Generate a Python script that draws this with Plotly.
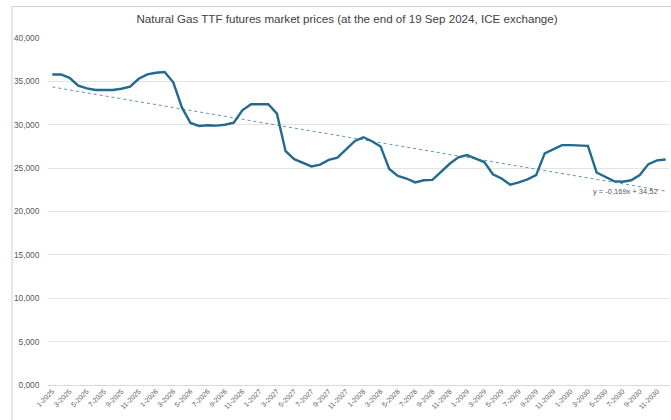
import plotly.graph_objects as go

months = [f"{m}-{y}" for y in range(2025, 2031) for m in range(1, 13)]

prices = [
    35.8, 35.8, 35.4, 34.5, 34.2, 34.0, 34.0, 34.0, 34.15, 34.4, 35.3, 35.8,
    36.0, 36.07, 34.9, 32.0, 30.2, 29.86, 29.94, 29.9, 30.0, 30.25, 31.67, 32.36,
    32.36, 32.36, 31.28, 26.95, 26.03, 25.65, 25.2, 25.4, 25.95, 26.2, 27.2, 28.1,
    28.56, 28.1, 27.5, 24.9, 24.1, 23.8, 23.35, 23.6, 23.65, 24.6, 25.5, 26.25,
    26.5, 26.1, 25.7, 24.3, 23.8, 23.1, 23.35, 23.7, 24.2, 26.7, 27.2, 27.65,
    27.65, 27.6, 27.56, 24.5, 24.0, 23.5, 23.43, 23.6, 24.2, 25.46, 25.9, 26.0,
]

tick_labels = months[::2]
y_ticks = [0, 5, 10, 15, 20, 25, 30, 35, 40]

trend_slope = -0.169
trend_intercept = 34.52
trend_label = "y = -0,169x + 34,52"
title = "Natural Gas TTF futures market prices (at the end of 19 Sep 2024, ICE exchange)"

trend = [trend_slope * (i + 1) + trend_intercept for i in range(len(months))]

line_color = "#226a8e"
font_family = "Liberation Sans, Arial, sans-serif"

fig = go.Figure()
fig.add_trace(go.Scatter(
    x=months, y=trend, mode="lines",
    line=dict(color="#5b95b5", width=1, dash="dot"),
    hoverinfo="skip", showlegend=False,
))
fig.add_trace(go.Scatter(
    x=months, y=prices, mode="lines",
    line=dict(color=line_color, width=2.4),
    showlegend=False,
))

fig.add_annotation(
    x=66.3, y=22.25, xref="x", yref="y", text=trend_label, showarrow=False,
    font=dict(family=font_family, size=7.5, color="#595959"),
)

# chart border (left and top)
bx = (12 - 48) / 622
by = (385.5 - 6) / 348
fig.add_shape(type="rect", xref="paper", yref="paper", layer="above",
              x0=bx, x1=1.3, y0=-0.5, y1=by,
              fillcolor="rgba(0,0,0,0)",
              line=dict(color="#cfcfcf", width=1))

fig.update_layout(
    width=671, height=420,
    margin=dict(l=48, r=1, t=37.5, b=34.5, autoexpand=False),
    paper_bgcolor="white", plot_bgcolor="white",
    separators=", ",
    title=dict(text=title, xref="container", x=347 / 671, xanchor="center",
               y=1 - 19 / 420, yanchor="middle",
               font=dict(family=font_family, size=11.6, color="#404040")),
    font=dict(family=font_family),
)
fig.update_xaxes(
    type="category", range=[-0.5, 71.5],
    tickmode="array", tickvals=tick_labels, ticktext=tick_labels,
    tickangle=-45, tickfont=dict(size=7, color="#595959"),
    showgrid=False, showline=False, ticks="", automargin=False,
    fixedrange=True,
)
fig.update_yaxes(
    range=[0, 40], tickvals=y_ticks, tickformat=".3f",
    tickfont=dict(size=8.3, color="#595959"),
    showgrid=True, gridcolor="#e3e3e3", gridwidth=1,
    zeroline=True, zerolinecolor="#d9d9d9", zerolinewidth=1,
    showline=False, ticks="outside", ticklen=6, tickcolor="white",
    automargin=False,
)

fig.write_html("out.html", config={"displayModeBar": False},
               post_script="document.body.style.margin='0';")
